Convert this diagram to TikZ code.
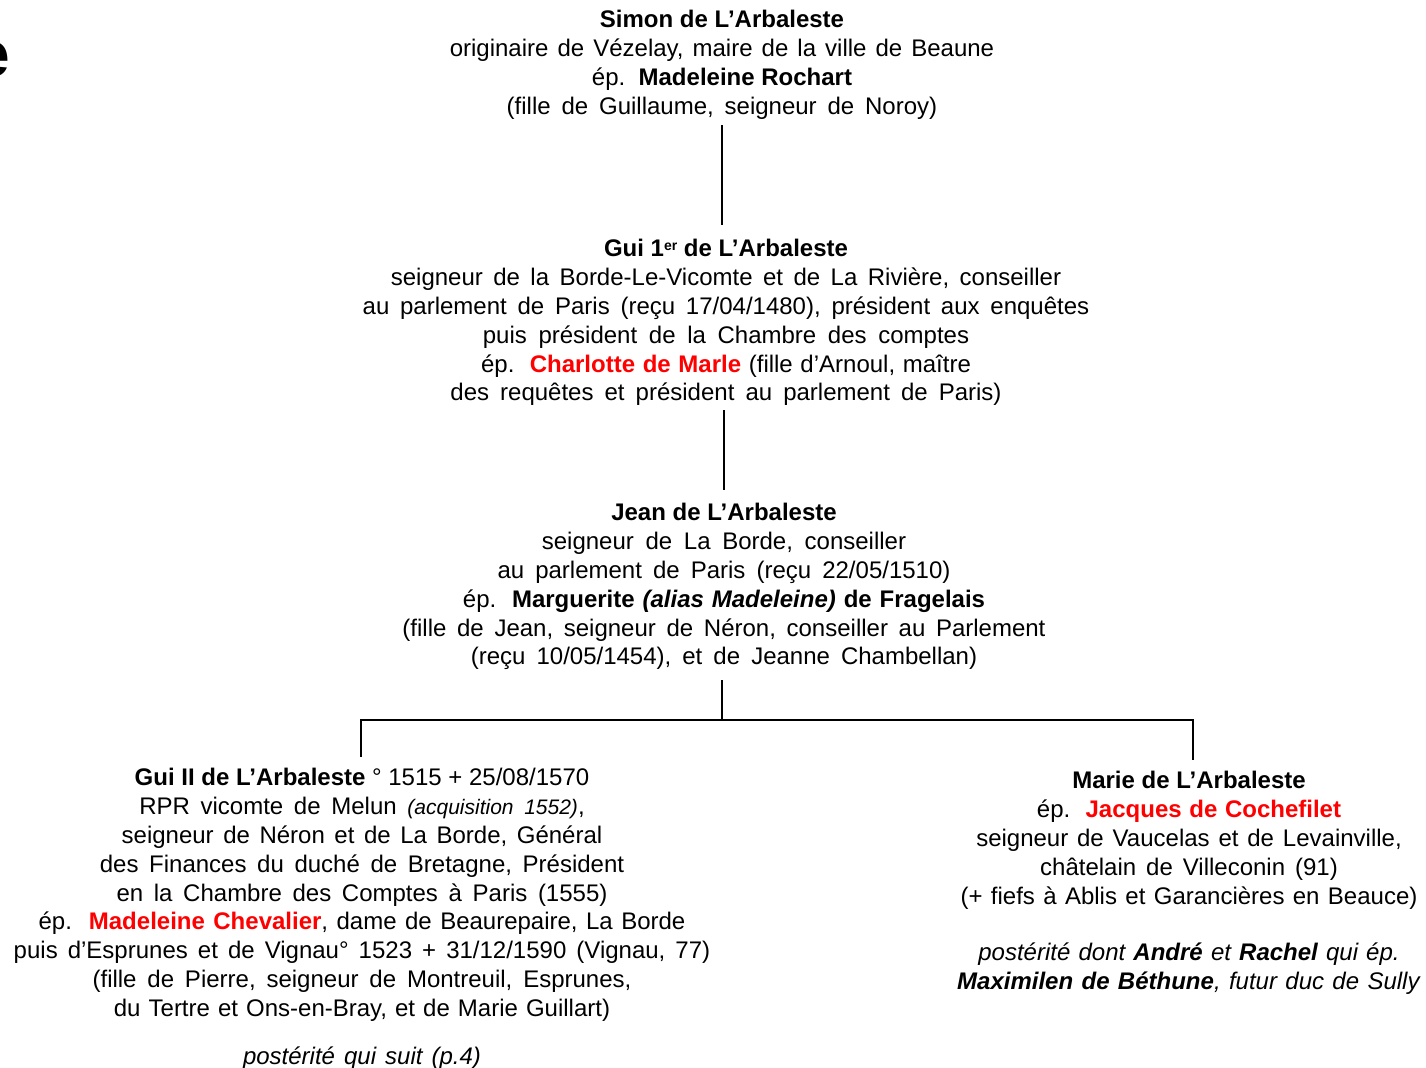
\documentclass[tikz,border=0pt]{standalone}
\usepackage{fontspec}
\setmainfont{Liberation Sans}
\usetikzlibrary{calc}
\definecolor{redn}{RGB}{255,0,0}
\newcommand\blkt[1]{\begin{tabular}[t]{@{}c@{}}#1\end{tabular}}
\newcommand\rd[1]{\textcolor{redn}{\textbf{#1}}}
\newcommand\wsl[2]{\spaceskip=\dimexpr3.336pt+#1pt\relax #2}
\begin{document}
\begin{tikzpicture}[x=0.5pt,y=-0.5pt,
  person/.style={inner sep=0pt, anchor=base, font=\fontsize{12}{14.4}\selectfont},
  link/.style={line width=1pt, draw=black}]
\useasboundingbox (0,0) rectangle (1426,1068);

\node[inner sep=0pt, anchor=base east, font=\fontsize{32}{32}\selectfont\bfseries] (etitle) at (10,77) {e};

\node[person] (simon) at (722,28) {\blkt{%
\textbf{Simon de L’Arbaleste}\\
\wsl{1.2}{originaire de Vézelay, maire de la ville de Beaune}\\
ép.\ \ \textbf{Madeleine Rochart}\\
\wsl{2.1}{(fille de Guillaume, seigneur de Noroy)}}};

\node[person] (gui1) at (726,257) {\blkt{%
\textbf{Gui 1\raisebox{0.55ex}{\fontsize{7}{7}\selectfont er} de L’Arbaleste}\\
\wsl{1.9}{seigneur de la Borde-Le-Vicomte et de La Rivière, conseiller}\\
\wsl{2.05}{au parlement de Paris (reçu 17/04/1480), président aux enquêtes}\\
\wsl{2.5}{puis président de la Chambre des comptes}\\
\wsl{0.5}{ép.\ \ \rd{Charlotte de Marle} (fille d’Arnoul, maître}\\
\wsl{2.2}{des requêtes et président au parlement de Paris)}}};

\node[person] (jean) at (724,521) {\blkt{%
\textbf{Jean de L’Arbaleste}\\
\wsl{2.5}{seigneur de La Borde, conseiller}\\
\wsl{2.2}{au parlement de Paris (reçu 22/05/1510)}\\
\wsl{0.6}{ép.\ \ \textbf{Marguerite \textit{(alias Madeleine)} de Fragelais}}\\
\wsl{2}{(fille de Jean, seigneur de Néron, conseiller au Parlement}\\
\wsl{2.2}{(reçu 10/05/1454), et de Jeanne Chambellan)}}};

\node[person] (gui2) at (362,786) {\blkt{%
\textbf{Gui II de L’Arbaleste} ° 1515 + 25/08/1570\\
\wsl{2}{RPR vicomte de Melun {\fontsize{10.5}{12}\selectfont\itshape (acquisition 1552)},}\\
\wsl{1.45}{seigneur de Néron et de La Borde, Général}\\
\wsl{2}{des Finances du duché de Bretagne, Président}\\
\wsl{2}{en la Chambre des Comptes à Paris (1555)}\\
\wsl{0.9}{ép.\ \ \rd{Madeleine Chevalier}, dame de Beaurepaire, La Borde}\\
\wsl{1.7}{puis d’Esprunes et de Vignau° 1523 + 31/12/1590 (Vignau, 77)}\\
\wsl{2.1}{(fille de Pierre, seigneur de Montreuil, Esprunes,}\\
\wsl{0.7}{du Tertre et Ons-en-Bray, et de Marie Guillart)}\\[9.5pt]
\wsl{1.2}{\textit{postérité qui suit (p.4)}}}};

\node[person] (marie) at (1189,789) {\blkt{%
\textbf{Marie de L’Arbaleste}\\
\wsl{0.5}{ép.\ \ \rd{Jacques de Cochefilet}}\\
\wsl{1.1}{seigneur de Vaucelas et de Levainville,}\\
\wsl{1.65}{châtelain de Villeconin (91)}\\
\wsl{0.85}{(+ fiefs à Ablis et Garancières en Beauce)}\\[14pt]
\wsl{0.75}{\textit{postérité dont \textbf{André} et \textbf{Rachel} qui ép.}}\\
\wsl{0.85}{\textit{\textbf{Maximilen de Béthune}, futur duc de Sully}}}};

\draw[link, shorten <=1pt, shorten >=5.9pt] (simon.south) -- (simon.south |- gui1.north);
\draw[link, shorten >=5.4pt] (jean.north |- gui1.south) -- (jean.north);
\coordinate (fork) at ([xshift=-1pt]jean.south |- 0,720);
\draw[link, shorten <=3.2pt] ([xshift=-1pt]jean.south) -- (fork);
\draw[link, shorten >=4.4pt] (fork) -| ([xshift=-0.5pt]gui2.north);
\draw[link, shorten >=4.4pt] (fork) -| ([xshift=2pt]marie.north);
\end{tikzpicture}
\end{document}
